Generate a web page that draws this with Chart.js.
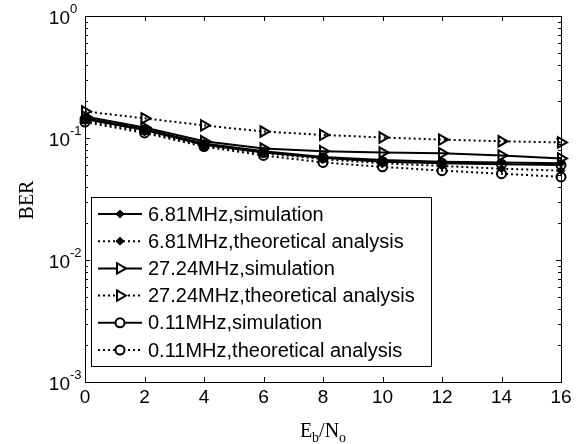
<!DOCTYPE html>
<html>
<head>
<meta charset="utf-8">
<script src="https://cdn.jsdelivr.net/npm/chart.js@4/dist/chart.umd.min.js"></script>
<style>
  html, body { margin: 0; padding: 0; background: #fff; }
  canvas { display: block; }
</style>
</head>
<body>
<canvas id="berChart" width="588" height="444"></canvas>
<script>
// ===== DATA =====
const ebno = [0, 2, 4, 6, 8, 10, 12, 14, 16];

const sim681 = [0.145, 0.118, 0.090, 0.078, 0.070, 0.066, 0.064, 0.063, 0.062];
const theo681 = [0.140, 0.113, 0.087, 0.075, 0.067, 0.062, 0.059, 0.056, 0.054];
const sim2724 = [0.150, 0.122, 0.094, 0.082, 0.078, 0.076, 0.075, 0.072, 0.068];
const theo2724 = [0.165, 0.145, 0.127, 0.113, 0.106, 0.101, 0.097, 0.094, 0.092];
const sim011 = [0.143, 0.116, 0.088, 0.076, 0.069, 0.064, 0.062, 0.061, 0.060];
const theo011 = [0.135, 0.110, 0.085, 0.072, 0.063, 0.058, 0.054, 0.051, 0.048];

const seriesNames = [
  '6.81MHz,simulation',
  '6.81MHz,theoretical analysis',
  '27.24MHz,simulation',
  '27.24MHz,theoretical analysis',
  '0.11MHz,simulation',
  '0.11MHz,theoretical analysis'
];

const xTicks = [0, 2, 4, 6, 8, 10, 12, 14, 16];
const yTicks = [1, 0.1, 0.01, 0.001];
const yTickExp = ['0', '-1', '-2', '-3'];

// ===== STYLE =====
const DOT = [2, 3];
const markers = ['diamond', 'diamond', 'tri', 'tri', 'circle', 'circle'];
const dashes = [[], DOT, [], DOT, [], DOT];
const allData = [sim681, theo681, sim2724, theo2724, sim011, theo011];

function pointOpts(kind) {
  if (kind === 'diamond') return { pointStyle: 'rectRot', pointRadius: 4, pointBackgroundColor: '#000', pointBorderWidth: 1 };
  if (kind === 'tri') return { pointStyle: 'triangle', pointRotation: 90, pointRadius: 6, pointBackgroundColor: 'rgba(255,255,255,0)', pointBorderWidth: 2 };
  return { pointStyle: 'circle', pointRadius: 4.5, pointBackgroundColor: 'rgba(255,255,255,0)', pointBorderWidth: 2 };
}

const datasets = allData.map((vals, i) => Object.assign({
  label: seriesNames[i],
  data: vals.map((v, j) => ({ x: ebno[j], y: v })),
  borderColor: '#000',
  pointBorderColor: '#000',
  borderWidth: 2,
  borderDash: dashes[i],
  tension: 0,
  clip: false
}, pointOpts(markers[i])));

// marker for the legend (same shapes as the plot)
function drawMarker(ctx, kind, x, y) {
  ctx.save();
  ctx.setLineDash([]);
  ctx.strokeStyle = '#000';
  ctx.fillStyle = '#000';
  ctx.lineWidth = 2;
  ctx.beginPath();
  if (kind === 'diamond') {
    ctx.lineWidth = 1;
    ctx.moveTo(x, y - 4); ctx.lineTo(x + 4, y); ctx.lineTo(x, y + 4); ctx.lineTo(x - 4, y);
    ctx.closePath(); ctx.fill(); ctx.stroke();
  } else if (kind === 'tri') {
    ctx.moveTo(x + 6, y); ctx.lineTo(x - 3, y - 5.2); ctx.lineTo(x - 3, y + 5.2);
    ctx.closePath(); ctx.fillStyle = '#fff'; ctx.fill(); ctx.stroke();
  } else {
    ctx.arc(x, y, 4.5, 0, Math.PI * 2);
    ctx.fillStyle = '#fff'; ctx.fill(); ctx.stroke();
  }
  ctx.restore();
}

// axes box, inner ticks, labels, titles, legend
const matlabAxes = {
  id: 'matlabAxes',
  afterDraw(chart) {
    const ctx = chart.ctx;
    const a = chart.chartArea;
    const xs = chart.scales.x;
    const ys = chart.scales.y;
    ctx.save();
    ctx.strokeStyle = '#000';
    ctx.fillStyle = '#000';
    ctx.lineWidth = 1;
    ctx.setLineDash([]);
    ctx.strokeRect(a.left + 0.5, a.top + 0.5, a.right - a.left, a.bottom - a.top);

    // x ticks (bottom + top)
    ctx.beginPath();
    xTicks.forEach(t => {
      const px = Math.round(xs.getPixelForValue(t)) + 0.5;
      ctx.moveTo(px, a.bottom); ctx.lineTo(px, a.bottom - 5);
      ctx.moveTo(px, a.top); ctx.lineTo(px, a.top + 5);
    });
    // y ticks, major and minor (left + right)
    for (let d = 0; d < 3; d++) {
      const base = yTicks[d + 1];
      for (let m = 1; m <= 9; m++) {
        const py = Math.round(ys.getPixelForValue(base * m)) + 0.5;
        const len = m === 1 ? 5 : 3;
        ctx.moveTo(a.left, py); ctx.lineTo(a.left + len, py);
        ctx.moveTo(a.right, py); ctx.lineTo(a.right - len, py);
      }
    }
    ctx.stroke();

    // tick labels
    ctx.font = '19px "Liberation Sans", Arial, sans-serif';
    ctx.textAlign = 'center';
    ctx.textBaseline = 'top';
    xTicks.forEach(t => ctx.fillText(String(t), xs.getPixelForValue(t), a.bottom + 6));

    yTicks.forEach((t, i) => {
      const py = ys.getPixelForValue(t);
      ctx.font = '19px "Liberation Sans", Arial, sans-serif';
      ctx.textAlign = 'right';
      ctx.textBaseline = 'alphabetic';
      ctx.fillText('10', 70, py + 8);
      ctx.font = '13px "Liberation Sans", Arial, sans-serif';
      ctx.textAlign = 'left';
      ctx.fillText(yTickExp[i], 70, py - 3);
    });

    // x title E_b/N_o
    const serif = '"Liberation Serif", "Times New Roman", serif';
    const cx = (a.left + a.right) / 2;
    const base = 437;
    ctx.textAlign = 'left';
    ctx.textBaseline = 'alphabetic';
    const parts = [['E', 20, 0], ['b', 14, 5], ['/N', 20, 0], ['o', 14, 5]];
    let total = 0;
    parts.forEach(p => { ctx.font = p[1] + 'px ' + serif; total += ctx.measureText(p[0]).width; });
    let xx = cx - total / 2;
    parts.forEach(p => {
      ctx.font = p[1] + 'px ' + serif;
      ctx.fillText(p[0], xx, base + p[2]);
      xx += ctx.measureText(p[0]).width;
    });

    // y title
    ctx.save();
    ctx.translate(33, (a.top + a.bottom) / 2 + 1);
    ctx.rotate(-Math.PI / 2);
    ctx.font = '20px ' + serif;
    ctx.textAlign = 'center';
    ctx.fillText('BER', 0, 0);
    ctx.restore();

    // legend
    const lx = 91, ly = 197, lw = 340, lh = 169;
    ctx.fillStyle = '#fff';
    ctx.fillRect(lx, ly, lw, lh);
    ctx.strokeRect(lx + 0.5, ly + 0.5, lw, lh);
    const rowH = 27.2;
    seriesNames.forEach((name, i) => {
      const ry = ly + 17 + i * rowH;
      ctx.beginPath();
      ctx.lineWidth = 2;
      ctx.setLineDash(dashes[i]);
      ctx.moveTo(98, ry); ctx.lineTo(142, ry);
      ctx.stroke();
      ctx.setLineDash([]);
      drawMarker(ctx, markers[i], 120, ry);
      ctx.fillStyle = '#000';
      ctx.font = '20px "Liberation Sans", Arial, sans-serif';
      ctx.textAlign = 'left';
      ctx.textBaseline = 'middle';
      ctx.fillText(name, 148, ry + 1);
    });
    ctx.restore();
  }
};

new Chart(document.getElementById('berChart'), {
  type: 'line',
  data: { datasets: datasets },
  options: {
    responsive: false,
    animation: false,
    layout: { padding: { left: 85, right: 27, top: 16, bottom: 62 } },
    plugins: { legend: { display: false }, tooltip: { enabled: false } },
    scales: {
      x: { type: 'linear', min: 0, max: 16, display: false },
      y: { type: 'logarithmic', min: 0.001, max: 1, display: false }
    }
  },
  plugins: [matlabAxes]
});
</script>
</body>
</html>
